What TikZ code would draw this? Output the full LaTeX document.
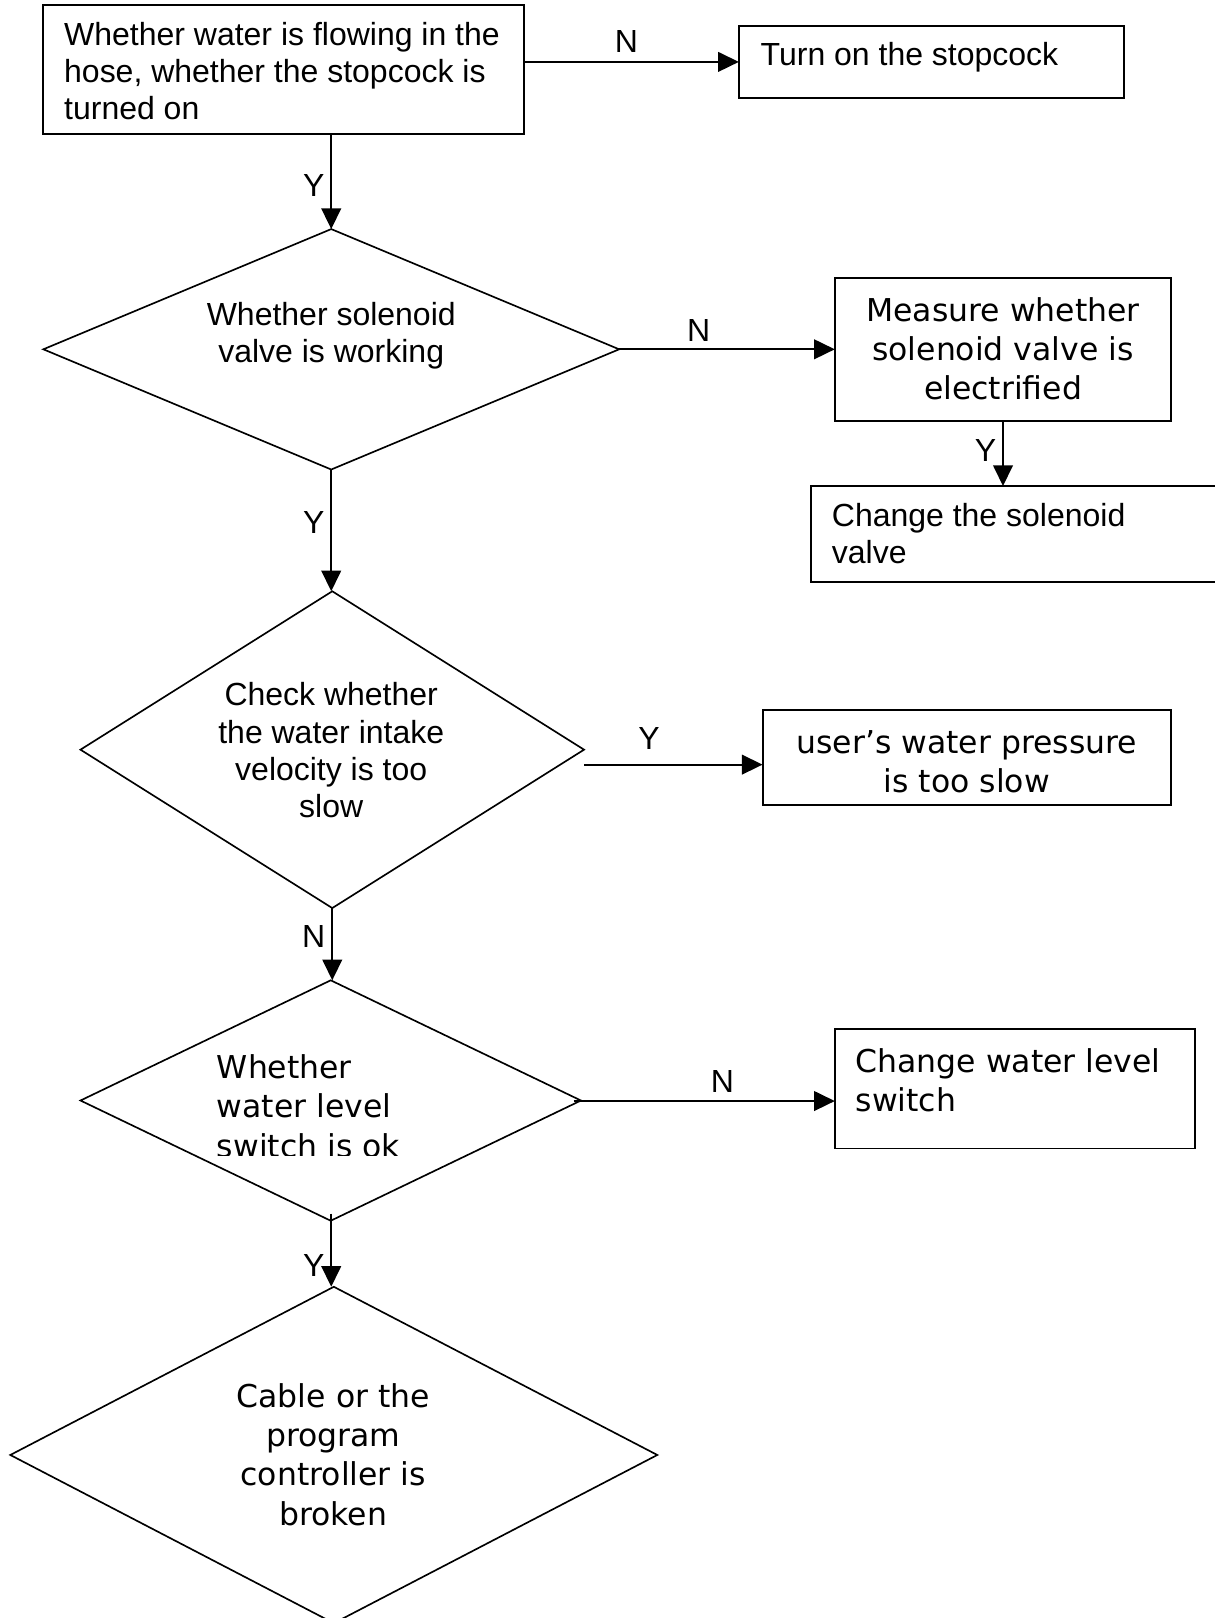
\documentclass[tikz,border=0pt]{standalone}
\usepackage{fontspec}
\setmainfont{Liberation Sans}
\newfontfamily\verd{DejaVu Sans}
\usetikzlibrary{shapes.geometric,arrows.meta}
\begin{document}
\begin{tikzpicture}[x=1pt,y=-1pt,
  box/.style={draw,line width=1.8pt,inner sep=0pt,outer sep=0pt},
  dia/.style={draw,diamond,line width=1.6pt,inner sep=0pt,outer sep=0pt},
  ar/.style={font=\fontsize{31}{36}\selectfont},
  vd/.style={font=\verd\fontsize{30.5}{38}\selectfont},
  arr/.style={line width=1.8pt,-{Triangle[length=20pt,width=19pt]}},
  lbl/.style={font=\fontsize{31}{36}\selectfont,inner sep=0pt}]
\useasboundingbox (0,0) rectangle (1177,1568);

% boxes and diamonds
\node[box,minimum width=466pt,minimum height=125pt] (A) at (275,67.5) {};
\node[ar,align=left,anchor=west,inner sep=0pt] (At) at (62,69) {Whether water is flowing in the\\hose, whether the stopcock is\\turned on};
\node[box,minimum width=373pt,minimum height=70pt] (B) at (902.5,60) {};
\node[ar,anchor=west,inner sep=0pt] (Bt) at (737,55) {Turn on the stopcock};

\node[dia,minimum width=558pt,minimum height=233pt] (D1) at (321,338.5) {};
\node[ar,align=center,inner sep=0pt] (D1t) at (321,325) {Whether solenoid\\valve is working};

\node[box,minimum width=326pt,minimum height=139pt] (C) at (972,338.5) {};
\node[vd,align=center,inner sep=0pt] (Ct) at (972,338) {Measure whether\\solenoid valve is\\electrified};

\node[box,minimum width=404pt,minimum height=93pt] (E) at (988,517.5) {};
\node[ar,align=left,anchor=west,inner sep=0pt] (Et) at (806,517) {Change the solenoid\\valve};

\node[dia,minimum width=488pt,minimum height=307pt] (D2) at (322,726.5) {};
\node[ar,align=center,inner sep=0pt] (D2t) at (321,727) {Check whether\\the water intake\\velocity is too\\slow};

\node[box,minimum width=396pt,minimum height=92pt] (F) at (937,734) {};
\node[vd,align=center,inner sep=0pt] (Ft) at (937,738) {user’s water pressure\\is too slow};

\node[dia,minimum width=485pt,minimum height=233pt] (D3) at (320.5,1066.5) {};
\begin{scope}
\clip (200,1000) rectangle (420,1120);
\node[vd,align=left,anchor=west,inner sep=0pt] (D3t) at (210,1072) {Whether\\water level\\switch is ok};
\end{scope}

\node[box,minimum width=349pt,minimum height=116pt] (G) at (983.5,1055) {};
\node[vd,align=left,anchor=west,inner sep=0pt] (Gt) at (829,1047) {Change water level\\switch};

\node[dia,minimum width=627pt,minimum height=326pt] (D4) at (323.5,1410) {};
\node[vd,align=center,inner sep=0pt] (D4t) at (323,1409.5) {Cable or the\\program\\controller is\\broken};

% connectors
\draw[arr] (A.east |- B.west) -- (B.west);
\node[lbl] (n1) at (607,40) {N};
\draw[arr] (A.south -| D1.north) -- (D1.north);
\node[lbl] (y1) at (304,180) {Y};
\draw[arr] (D1.east) -- (C.west);
\node[lbl] (n2) at (677,320) {N};
\draw[arr] (C.south) -- (C.south |- E.north);
\node[lbl] (y2) at (955,437) {Y};
\draw[arr] (D1.south) -- (D1.south |- D2.north);
\node[lbl] (y3) at (304,506) {Y};
\coordinate (d2o) at (566,741);
\draw[arr] (d2o) -- (d2o -| F.west);
\node[lbl] (y4) at (629,716) {Y};
\draw[arr] (D2.south) -- (D2.south |- D3.north);
\node[lbl] (n3) at (304,908) {N};
\coordinate (d3o) at (556,1067);
\draw[arr] (d3o) -- (d3o -| G.west);
\node[lbl] (n4) at (700,1048) {N};
\coordinate (d3b) at (321,1176);
\draw[arr] (d3b) -- (d3b |- D4.north);
\node[lbl] (y5) at (304,1226) {Y};
\end{tikzpicture}
\end{document}
